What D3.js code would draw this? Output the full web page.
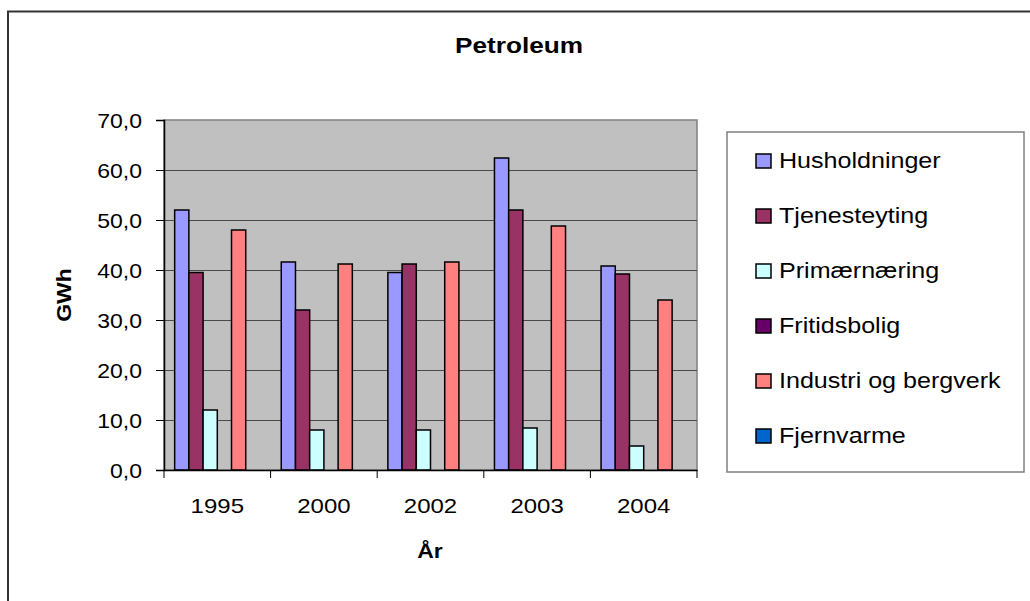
<!DOCTYPE html>
<html><head><meta charset="utf-8">
<script src="https://cdn.jsdelivr.net/npm/d3@7"></script>
<style>body{margin:0;background:#fff}text{font-family:"Liberation Sans",Arial,sans-serif;fill:#000}</style>
</head><body>
<svg id="c" width="1030" height="601"></svg>
<script>
const categories = ["1995","2000","2002","2003","2004"];
const seriesNames = ["Husholdninger","Tjenesteyting","Primærnæring","Fritidsbolig","Industri og bergverk","Fjernvarme"];
const husholdninger = [52.0, 41.6, 39.5, 62.4, 40.8];
const tjenesteyting = [39.5, 32.0, 41.2, 52.0, 39.2];
const primaernaering = [12.0, 8.0, 8.0, 8.4, 4.8];
const fritidsbolig = [0, 0, 0, 0, 0];
const industri = [48.0, 41.2, 41.6, 48.8, 34.0];
const fjernvarme = [0, 0, 0, 0, 0];
const yTicks = [0,10,20,30,40,50,60,70];
const colors = ["#9999FF","#993366","#CCFFFF","#660066","#FF8080","#0066CC"];
const seriesValues = [husholdninger, tjenesteyting, primaernaering, fritidsbolig, industri, fjernvarme];

const svg = d3.select("#c");
// outer border
svg.append("rect").attr("x",8).attr("y",11.5).attr("width",1040).attr("height",610)
  .attr("fill","#fff").attr("stroke","#333").attr("stroke-width",2);

const L=164, R=697, T=120, B=470;
const x = d3.scaleBand().domain(categories).range([L,R]).padding(0);
const xi = d3.scaleBand().domain(seriesNames).range([0,x.bandwidth()]).paddingInner(0).paddingOuter(0.75);
const y = d3.scaleLinear().domain([0,70]).range([B,T]);

// plot background
svg.append("rect").attr("x",L).attr("y",T).attr("width",R-L).attr("height",B-T)
  .attr("fill","#C0C0C0").attr("stroke","#808080").attr("stroke-width",1.5);
// gridlines
svg.append("g").selectAll("line").data(yTicks.filter(d=>d>0&&d<70)).join("line")
  .attr("x1",L).attr("x2",R).attr("y1",d=>Math.round(y(d))+0.5).attr("y2",d=>Math.round(y(d))+0.5)
  .attr("stroke","#4a4a4a").attr("stroke-width",1);

// bars
const data = [];
categories.forEach((c,i)=>seriesNames.forEach((s,j)=>data.push({c,s,j,v:seriesValues[j][i]})));
svg.append("g").selectAll("rect").data(data.filter(d=>d.v>0)).join("rect")
  .attr("x",d=>x(d.c)+xi(d.s)).attr("width",xi.bandwidth())
  .attr("y",d=>y(d.v)).attr("height",d=>y(0)-y(d.v))
  .attr("fill",d=>colors[d.j]).attr("stroke","#000").attr("stroke-width",1.5);

// y axis
const SY = 1.15;
const ya = svg.append("g").attr("transform",`translate(${L},0)`)
  .call(d3.axisLeft(y).tickValues(yTicks).tickSize(8).tickFormat(d=>d3.format(".1f")(d).replace(".",",")));
ya.select(".domain").attr("stroke","#000").attr("stroke-width",1.5);
ya.selectAll(".tick line").attr("stroke","#000");
ya.selectAll(".tick text").attr("font-size",20).attr("font-family","Liberation Sans, Arial")
  .attr("x",-22/SY).attr("dy","0.36em").attr("transform",`scale(${SY},1)`).attr("fill","#000");

// x axis
const SXT = 1.2;
const xa = svg.append("g").attr("transform",`translate(0,${B})`)
  .call(d3.axisBottom(x).tickSize(0).tickPadding(0));
xa.select(".domain").attr("stroke","#000").attr("stroke-width",1.5);
xa.selectAll(".tick text").attr("font-size",20).attr("font-family","Liberation Sans, Arial")
  .attr("y",0).attr("dy",0).attr("transform",`translate(0,43) scale(${SXT},1)`).attr("fill","#000");
const bounds = categories.map(c=>x(c)).concat([x(categories[categories.length-1])+x.bandwidth()]);
svg.append("g").selectAll("line").data(bounds).join("line")
  .attr("x1",d=>d).attr("x2",d=>d).attr("y1",B).attr("y2",B+8).attr("stroke","#000");

// title
svg.append("text").attr("transform",`translate(519,53) scale(1.19,1)`).attr("text-anchor","middle")
  .attr("font-size",22).attr("font-weight","bold").text("Petroleum");
// axis titles
svg.append("text").attr("transform",`translate(430,558) scale(1.15,1)`).attr("text-anchor","middle")
  .attr("font-size",20).attr("font-weight","bold").text("År");
svg.append("text").attr("transform",`translate(71,295) rotate(-90) scale(1.15,1)`).attr("text-anchor","middle")
  .attr("font-size",20).attr("font-weight","bold").text("GWh");

// legend
const lg = svg.append("g");
lg.append("rect").attr("x",727).attr("y",132).attr("width",297).attr("height",340)
  .attr("fill","#fff").attr("stroke","#808080").attr("stroke-width",1.5);
const rowY = d3.scalePoint().domain(seriesNames).range([168,443]);
const items = lg.selectAll("g.it").data(seriesNames).join("g").attr("class","it");
items.append("rect").attr("x",756).attr("y",d=>rowY(d)-14).attr("width",15).attr("height",14)
  .attr("fill",(d,i)=>colors[i]).attr("stroke","#000").attr("stroke-width",1.5);
items.append("text").attr("transform",d=>`translate(779,${rowY(d)}) scale(1.14,1)`)
  .attr("font-size",22).text(d=>d);
</script>
</body></html>
